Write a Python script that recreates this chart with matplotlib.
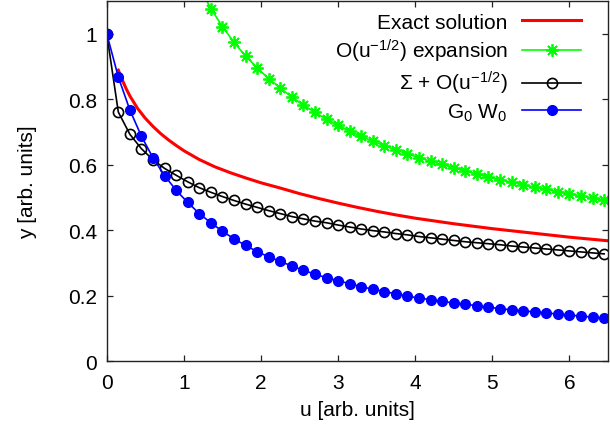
import matplotlib
matplotlib.use("Agg")
import matplotlib.pyplot as plt
from matplotlib.ticker import FuncFormatter

plt.rcParams['font.family'] = ['Liberation Sans', 'DejaVu Sans']
plt.rcParams['mathtext.fontset'] = 'custom'
plt.rcParams['mathtext.rm'] = 'Liberation Sans'
plt.rcParams['mathtext.it'] = 'Liberation Sans:italic'
plt.rcParams['mathtext.bf'] = 'Liberation Sans:bold'

# ---- data ----
u_exact = [0.15, 0.2, 0.25, 0.3, 0.4, 0.5, 0.6, 0.7, 0.8, 0.9, 1.0, 1.2, 1.4, 1.6,
           1.8, 2.0, 2.25, 2.5, 2.75, 3.0, 3.25, 3.5, 3.75, 4.0, 4.5, 5.0, 5.5, 6.0, 6.5]
y_exact = [0.889, 0.860, 0.833, 0.810, 0.772, 0.742, 0.717, 0.695, 0.676, 0.659, 0.643,
           0.616, 0.594, 0.576, 0.560, 0.545, 0.529, 0.512, 0.497, 0.483, 0.470, 0.458,
           0.447, 0.437, 0.420, 0.405, 0.392, 0.379, 0.368]

u_grid = [0.0, 0.15, 0.3, 0.45, 0.6, 0.75, 0.9, 1.05, 1.2, 1.35, 1.5, 1.65, 1.8, 1.95,
          2.1, 2.25, 2.4, 2.55, 2.7, 2.85, 3.0, 3.15, 3.3, 3.45, 3.6, 3.75, 3.9, 4.05,
          4.2, 4.35, 4.5, 4.65, 4.8, 4.95, 5.1, 5.25, 5.4, 5.55, 5.7, 5.85, 6.0, 6.15,
          6.3, 6.45]

y_sigma = [1.0, 0.761, 0.693, 0.649, 0.615, 0.589, 0.568, 0.548, 0.530, 0.516, 0.503,
           0.491, 0.480, 0.470, 0.460, 0.451, 0.442, 0.435, 0.428, 0.423, 0.416, 0.410,
           0.404, 0.399, 0.395, 0.390, 0.386, 0.381, 0.377, 0.373, 0.369, 0.365, 0.362,
           0.359, 0.356, 0.352, 0.349, 0.346, 0.343, 0.340, 0.337, 0.334, 0.331, 0.328]

y_g0w0 = [1.0, 0.868, 0.767, 0.687, 0.621, 0.567, 0.522, 0.485, 0.451, 0.423, 0.397,
          0.374, 0.354, 0.335, 0.319, 0.305, 0.291, 0.278, 0.266, 0.255, 0.246, 0.237,
          0.228, 0.220, 0.213, 0.206, 0.199, 0.193, 0.188, 0.183, 0.178, 0.174, 0.170,
          0.165, 0.161, 0.157, 0.154, 0.151, 0.148, 0.144, 0.141, 0.138, 0.135, 0.132]

u_asym = [1.2, 1.35, 1.5, 1.65, 1.8, 1.95, 2.1, 2.25, 2.4, 2.55, 2.7, 2.85, 3.0, 3.15,
          3.3, 3.45, 3.6, 3.75, 3.9, 4.05, 4.2, 4.35, 4.5, 4.65, 4.8, 4.95, 5.1, 5.25,
          5.4, 5.55, 5.7, 5.85, 6.0, 6.15, 6.3, 6.45]
y_asym = [1.144, 1.077, 1.022, 0.974, 0.932, 0.896, 0.863, 0.834, 0.807, 0.782, 0.760,
          0.739, 0.720, 0.703, 0.687, 0.672, 0.658, 0.645, 0.633, 0.622, 0.611, 0.601,
          0.591, 0.581, 0.572, 0.563, 0.555, 0.547, 0.539, 0.532, 0.525, 0.518, 0.512,
          0.505, 0.499, 0.493]

labels = ["Exact solution", r"O(u$^{\mathregular{-1/2}}$) expansion",
          r"$\mathregular{\Sigma}$ + O(u$^{\mathregular{-1/2}}$)",
          r"G$_{\mathregular{0}}$ W$_{\mathregular{0}}$"]
x_ticks = [0, 1, 2, 3, 4, 5, 6]
y_ticks = [0, 0.2, 0.4, 0.6, 0.8, 1.0]

# ---- figure ----
fig = plt.figure(figsize=(6.10, 4.39), dpi=100)
ax = fig.add_axes([0.175, 0.1747, 0.8217, 0.8207])

l_exact, = ax.plot(u_exact, y_exact, color='#ff0000', lw=2.2, label=labels[0])
l_asym, = ax.plot(u_asym, y_asym, color='#00ff00', lw=1.2, marker=(8, 2, 0),
                  ms=9, mew=1.3, label=labels[1])
l_sigma, = ax.plot(u_grid, y_sigma, color='black', lw=1.2, marker='o', ms=7.3,
                   mfc='none', mec='black', mew=1.2, label=labels[2])
l_g0w0, = ax.plot(u_grid, y_g0w0, color='#0000ff', lw=1.2, marker='o', ms=7,
                  mfc='#0000ff', mec='#0000ff', label=labels[3])

ax.set_xlim(0, 6.5)
ax.set_ylim(0, 1.1)
ax.set_xticks(x_ticks)
ax.set_yticks(y_ticks)
ax.yaxis.set_major_formatter(FuncFormatter(lambda v, p: ('%g' % v)))
ax.tick_params(direction='in', top=True, right=True, length=4.5, width=0.9,
               labelsize=15, pad=7, colors='#222222', labelcolor='black')
ax.tick_params(axis='x', pad=8.5)
for s in ax.spines.values():
    s.set_linewidth(1.0)
    s.set_color('#222222')

ax.set_xlabel('u [arb. units]', fontsize=15, labelpad=6)
ax.set_ylabel('y [arb. units]', fontsize=15, labelpad=22)

leg = ax.legend(loc='upper right', bbox_to_anchor=(0.9455, 0.968), frameon=False,
                markerfirst=False, fontsize=15, handlelength=2.8, handletextpad=0.7,
                numpoints=1, labelspacing=0.25, borderpad=0, borderaxespad=0)

fig.savefig('out.png', dpi=100)
